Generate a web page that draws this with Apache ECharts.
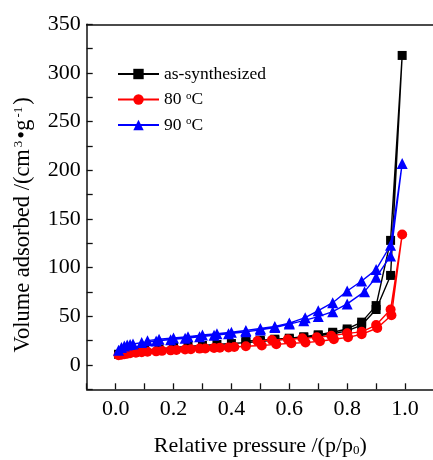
<!DOCTYPE html>
<html>
<head>
<meta charset="utf-8">
<script src="https://cdn.jsdelivr.net/npm/echarts@6/dist/echarts.min.js"></script>
<style>html,body{margin:0;padding:0;background:#fff;}#c{width:433px;height:460px;}</style>
</head>
<body>
<div id="c"></div>
<script>
// ---- data ----
const seriesNames = ['as-synthesized', '80 °C', '90 °C'];

const asSynX = [0.01,0.03,0.05,0.08,0.10,0.15,0.20,0.25,0.30,0.35,0.40,0.45,0.50,0.55,0.60,0.65,0.70,0.75,0.80,0.85,0.90,0.95,0.99,
                0.95,0.90,0.85,0.80,0.75,0.70,0.65,0.60,0.55,0.50,0.45];
const asSynY = [11,12.5,13.5,14.5,15,16.5,18,19,20,21,22,23,24,25.5,26.5,28,30,32,35,41,57,92,318,
                128,61,44,37,33.6,31,29,27.5,26.5,25.5,24.5];

const c80X = [0.01,0.02,0.03,0.04,0.05,0.07,0.09,0.11,0.14,0.16,0.19,0.21,0.24,0.26,0.29,0.31,0.34,0.36,0.39,0.41,0.45,0.505,0.555,0.607,0.656,0.706,0.754,0.803,0.85,0.904,0.953,0.99,
              0.95,0.90,0.85,0.80,0.745,0.695,0.645,0.595,0.54,0.49];
const c80Y = [10,10.5,11,11.5,12,12.5,13,13.5,14,14.5,15,15.3,15.8,16.2,16.8,17,17.5,17.8,18,18.5,19.2,20,21.2,22.3,23,24.3,26.4,28.4,31.5,38,51,134,
              57,41,34,32.5,30,28.4,27.4,26.4,25.7,24.7];

const c90X = [0.01,0.02,0.03,0.04,0.05,0.06,0.09,0.14,0.19,0.24,0.29,0.34,0.39,0.45,0.50,0.55,0.60,0.65,0.70,0.75,0.80,0.86,0.90,0.95,0.99,
              0.95,0.90,0.85,0.80,0.75,0.70,0.655,0.60,0.55,0.50,0.45,0.40,0.35,0.30,0.25,0.20,0.15,0.11];
const c90Y = [15,18,19.5,20.5,21,21.5,23,24.5,26,27.5,29,30.5,32,34,36,38.5,42,45.5,49.7,54.8,62.7,75.3,90,112,207,
              123,98,86.3,76,64,55.8,48.6,43,39.5,37.5,35.5,33.6,32,30.8,29,27.7,26.4,25];

// axis: range and tick steps (labels on every second tick)
const xMin = -0.1, xMax = 1.1, xStep = 0.1;
const yMin = -25, yMax = 350, yStep = 25;

// ---- chart ----
const zip = (xs, ys) => xs.map((x, i) => [x, ys[i]]);
const font = 'Liberation Serif, Times New Roman, serif';
const axisColor = '#111';

const chart = echarts.init(document.getElementById('c'), null, {renderer: 'canvas'});

chart.setOption({
  animation: false,
  backgroundColor: '#fff',
  grid: {left: 86.7, top: 24.3, right: -1, bottom: 70.7, show: false, containLabel: false, outerBoundsMode: 'none'},
  legend: {
    orient: 'vertical', left: 112, top: 60, itemWidth: 41, itemHeight: 13, itemGap: 7.5,
    data: seriesNames,
    formatter: n => n.replace('°', '{sup|o}'),
    textStyle: {fontFamily: font, fontSize: 17.5, color: '#000',
      rich: {sup: {fontFamily: font, fontSize: 11, verticalAlign: 'top', lineHeight: 12, color: '#000'}}}
  },
  xAxis: [
    {
      type: 'value', position: 'bottom', min: xMin, max: xMax, interval: xStep,
      splitLine: {show: false},
      axisLine: {show: true, onZero: false, lineStyle: {color: axisColor, width: 1.5}},
      axisTick: {show: true, inside: true, length: 6, lineStyle: {color: axisColor, width: 1.3}},
      axisLabel: {
        margin: 9, fontFamily: font, fontSize: 22, color: '#000', showMinLabel: true, showMaxLabel: true,
        formatter: v => {
          const k = Math.round(v * 10);
          return (k >= 0 && k <= 10 && k % 2 === 0) ? (k / 10).toFixed(1) : '';
        }
      },
      name: 'Relative pressure /(p/p{sub|0})', nameLocation: 'middle', nameGap: 46,
      nameTextStyle: {fontFamily: font, fontSize: 22, color: '#000',
        rich: {sub: {fontFamily: font, fontSize: 13, verticalAlign: 'bottom', lineHeight: 10, color: '#000'}}}
    },
    {
      type: 'value', position: 'top', min: xMin, max: xMax,
      splitLine: {show: false},
      axisLine: {show: true, onZero: false, lineStyle: {color: axisColor, width: 1.5}},
      axisTick: {show: false}, axisLabel: {show: false}
    }
  ],
  yAxis: [
    {
      type: 'value', position: 'left', min: yMin, max: yMax, interval: yStep,
      splitLine: {show: false},
      axisLine: {show: true, onZero: false, lineStyle: {color: axisColor, width: 1.5}},
      axisTick: {show: true, inside: true, length: 6, lineStyle: {color: axisColor, width: 1.3}},
      axisLabel: {
        margin: 6, fontFamily: font, fontSize: 22, color: '#000', showMinLabel: true, showMaxLabel: true,
        formatter: v => (v >= 0 && Math.round(v) % 50 === 0) ? String(Math.round(v)) : ''
      },
      name: 'Volume adsorbed /(cm{sup|3}•g{sup|-1})', nameLocation: 'middle', nameGap: 52, nameRotate: 90,
      nameTextStyle: {fontFamily: font, fontSize: 22.5, color: '#000', padding: [0, 36, 0, 0],
        rich: {sup: {fontFamily: font, fontSize: 13, verticalAlign: 'top', lineHeight: 10, color: '#000', padding: [0, 2, 0, 2]}}}
    }
  ],
  series: [
    {name: seriesNames[0], type: 'line', data: zip(asSynX, asSynY), symbol: 'rect', symbolSize: 9,
     itemStyle: {color: '#000'}, lineStyle: {color: '#000', width: 1.4}, z: 2},
    {name: seriesNames[1], type: 'line', data: zip(c80X, c80Y), symbol: 'circle', symbolSize: 10,
     itemStyle: {color: '#ff0000'}, lineStyle: {color: '#ff0000', width: 1.4}, z: 3},
    {name: seriesNames[2], type: 'line', data: zip(c90X, c90Y), symbol: 'triangle', symbolSize: 11,
     itemStyle: {color: '#0000ff'}, lineStyle: {color: '#0000ff', width: 1.4}, z: 4}
  ]
});
</script>
</body>
</html>
